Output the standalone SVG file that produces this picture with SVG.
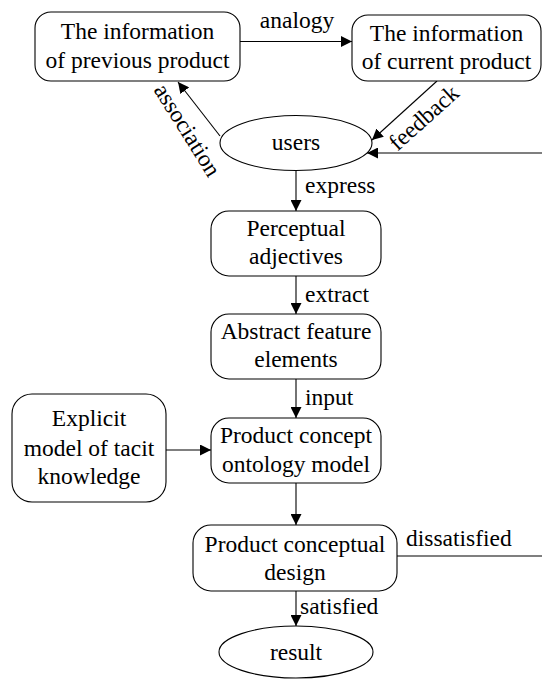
<svg xmlns="http://www.w3.org/2000/svg" width="542" height="680" viewBox="0 0 542 680" font-family="'Liberation Serif', 'DejaVu Serif', serif">
  <defs>
    <marker id="arrow" markerUnits="userSpaceOnUse" markerWidth="11" markerHeight="11" refX="11" refY="5.5" orient="auto">
      <path d="M0,0 L11,5.5 L0,11 z" fill="#000"/>
    </marker>
  </defs>
  <style>
    .node { fill: #fff; stroke: #000; stroke-width: 1.1; }
    text { font-family: 'Liberation Serif', 'DejaVu Serif', serif; font-size: 23.5px; fill: #000; }
    .t { text-anchor: middle; }
    .edge { fill: none; stroke: #000; stroke-width: 1.1; }
    .arr { marker-end: url(#arrow); }
  </style>
  <rect width="542" height="680" fill="#fff"/>

  <!-- connectors -->
  <g id="connectors">
    <line class="edge arr" x1="240" y1="41.5" x2="352" y2="41.5"/>
    <text class="t" x="297" y="28">analogy</text>

    <line class="edge arr" x1="220" y1="136" x2="178" y2="82"/>
    <text class="t" transform="translate(186,131) rotate(58)" x="0" y="6">association</text>

    <line class="edge arr" x1="437" y1="81" x2="372" y2="140"/>
    <text class="t" transform="translate(425,119) rotate(-42)" x="0" y="6">feedback</text>

    <line class="edge arr" x1="542" y1="153" x2="367" y2="153"/>

    <line class="edge arr" x1="296" y1="170" x2="296" y2="211"/>
    <text x="305" y="193">express</text>

    <line class="edge arr" x1="296" y1="276" x2="296" y2="314"/>
    <text x="305" y="302">extract</text>

    <line class="edge arr" x1="296" y1="379" x2="296" y2="418"/>
    <text x="305" y="405">input</text>

    <line class="edge arr" x1="166" y1="450" x2="211" y2="450"/>

    <line class="edge arr" x1="296" y1="483" x2="296" y2="525"/>

    <line class="edge" x1="397" y1="556" x2="542" y2="556"/>
    <text x="406" y="546">dissatisfied</text>

    <line class="edge arr" x1="296" y1="591" x2="296" y2="626"/>
    <text x="300" y="614">satisfied</text>
  </g>

  <g id="previous-product">
    <rect class="node" x="35" y="12" width="205" height="69" rx="16"/>
    <text class="t" x="137.5" y="39">The information</text>
    <text class="t" x="137.5" y="68">of previous product</text>
  </g>

  <g id="current-product">
    <rect class="node" x="352" y="15" width="189" height="66" rx="16"/>
    <text class="t" x="446.5" y="40.5">The information</text>
    <text class="t" x="446.5" y="69">of current product</text>
  </g>

  <g id="users">
    <ellipse class="node" cx="296" cy="143" rx="76" ry="27.5"/>
    <text class="t" x="296" y="150">users</text>
  </g>

  <g id="perceptual-adjectives">
    <rect class="node" x="211" y="211" width="170" height="65" rx="18"/>
    <text class="t" x="296" y="236">Perceptual</text>
    <text class="t" x="296" y="264">adjectives</text>
  </g>

  <g id="abstract-feature-elements">
    <rect class="node" x="211" y="314" width="170" height="65" rx="18"/>
    <text class="t" x="296" y="339">Abstract feature</text>
    <text class="t" x="296" y="367">elements</text>
  </g>

  <g id="explicit-model">
    <rect class="node" x="12" y="394" width="154" height="108" rx="20"/>
    <text class="t" x="89" y="426">Explicit</text>
    <text class="t" x="89" y="455.5">model of tacit</text>
    <text class="t" x="89" y="484">knowledge</text>
  </g>

  <g id="ontology-model">
    <rect class="node" x="211" y="418" width="170" height="65" rx="18"/>
    <text class="t" x="296" y="443">Product concept</text>
    <text class="t" x="296" y="471.5">ontology model</text>
  </g>

  <g id="conceptual-design">
    <rect class="node" x="193" y="525" width="204" height="66" rx="18"/>
    <text class="t" x="295" y="551.5">Product conceptual</text>
    <text class="t" x="295" y="580">design</text>
  </g>

  <g id="result">
    <ellipse class="node" cx="296" cy="652" rx="77" ry="26"/>
    <text class="t" x="296" y="660">result</text>
  </g>
</svg>
